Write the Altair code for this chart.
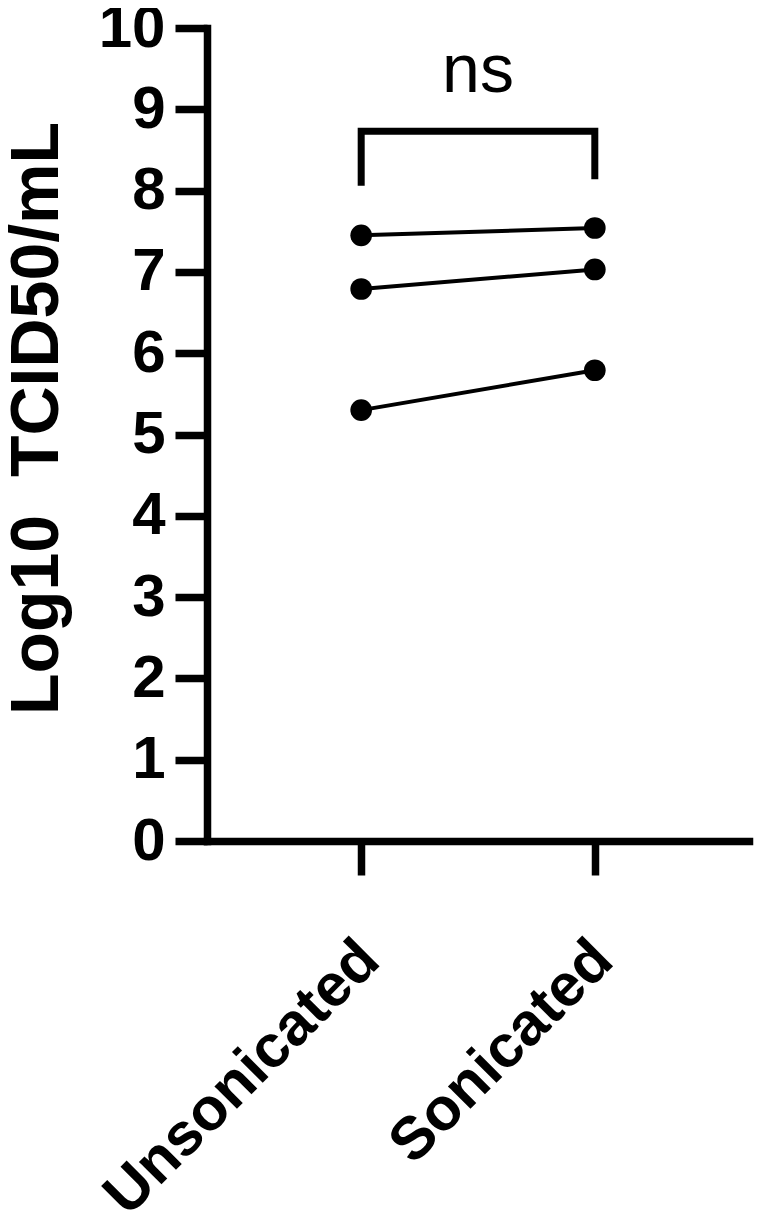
import altair as alt
import pandas as pd

# ---- data ----
groups = ["Unsonicated", "Sonicated"]
unsonicated = [7.45, 6.79, 5.30]
sonicated = [7.54, 7.03, 5.79]
pair_ids = ["A", "B", "C"]

# significance bracket (y in data units) and label
bracket_groups = ["Unsonicated", "Unsonicated", "Sonicated", "Sonicated"]
bracket_y = [8.06, 8.73, 8.73, 8.14]
sig_label = "ns"
sig_y = 9.21

y_ticks = list(range(0, 11))

FONT = "Liberation Sans"
W, H = 542, 813

rows = []
for pid, u, s in zip(pair_ids, unsonicated, sonicated):
    rows.append({"group": groups[0], "value": u, "pair": pid})
    rows.append({"group": groups[1], "value": s, "pair": pid})
df = pd.DataFrame(rows)

br = pd.DataFrame({"group": bracket_groups, "value": bracket_y,
                   "order": list(range(len(bracket_y)))})
sig = pd.DataFrame({"label": [sig_label], "value": [sig_y]})

x_enc = alt.X(
    "group:N",
    sort=groups,
    scale=alt.Scale(type="point", domain=groups, padding=0.66),
    axis=alt.Axis(
        title=None,
        labelAngle=315,
        labelAlign="right",
        labelBaseline="middle",
        labelFont=FONT,
        labelFontSize=60,
        labelFontWeight="bold",
        labelColor="black",
        labelPadding=75,
        labelOffset=8,
        labelLimit=2000,
        labelOverlap=False,
        tickSize=34,
        tickWidth=7.5,
        tickColor="black",
        domainColor="black",
        domainWidth=7.5,
        domainCap="square",
        grid=False,
    ),
)

y_enc = alt.Y(
    "value:Q",
    scale=alt.Scale(domain=[0, 10], nice=False, zero=True),
    axis=alt.Axis(
        title="Log10\u00a0\u00a0TCID50/mL",
        titleFont=FONT,
        titleFontSize=68,
        titleFontWeight="bold",
        titleColor="black",
        titleAngle=270,
        titleAlign="center",
        titleBaseline="alphabetic",
        titleX=-150,
        titleY=390,
        titleLimit=2000,
        values=y_ticks,
        format="d",
        labelFont=FONT,
        labelFontSize=60,
        labelFontWeight="bold",
        labelColor="black",
        labelPadding=10,
        labelOverlap=False,
        tickSize=32,
        tickWidth=7.5,
        tickColor="black",
        domainColor="black",
        domainWidth=7.5,
        domainCap="square",
        grid=False,
    ),
)

lines = alt.Chart(df).mark_line(color="black", strokeWidth=4).encode(
    x=x_enc, y=y_enc, detail="pair:N"
)
points = alt.Chart(df).mark_circle(color="black", opacity=1, size=470).encode(
    x=alt.X("group:N", sort=groups), y="value:Q"
)
bracket = alt.Chart(br).mark_line(
    color="black", strokeWidth=7, strokeCap="butt", strokeJoin="miter"
).encode(
    x=alt.X("group:N", sort=groups), y="value:Q", order="order:Q"
)
ns_text = alt.Chart(sig).mark_text(
    font=FONT, fontSize=68, color="black", align="center", baseline="alphabetic"
).encode(
    x=alt.value(W / 2), y="value:Q", text="label:N"
)

chart = (
    alt.layer(lines, bracket, points, ns_text)
    .properties(
        width=W,
        height=H,
        background="white",
        autosize=alt.AutoSizeParams(type="none"),
        padding={"left": 199, "top": 20, "right": 5, "bottom": 374},
    )
    .configure_view(strokeWidth=0, stroke=None)
)

chart.save("out.html", embed_options={"renderer": "svg", "actions": False})
